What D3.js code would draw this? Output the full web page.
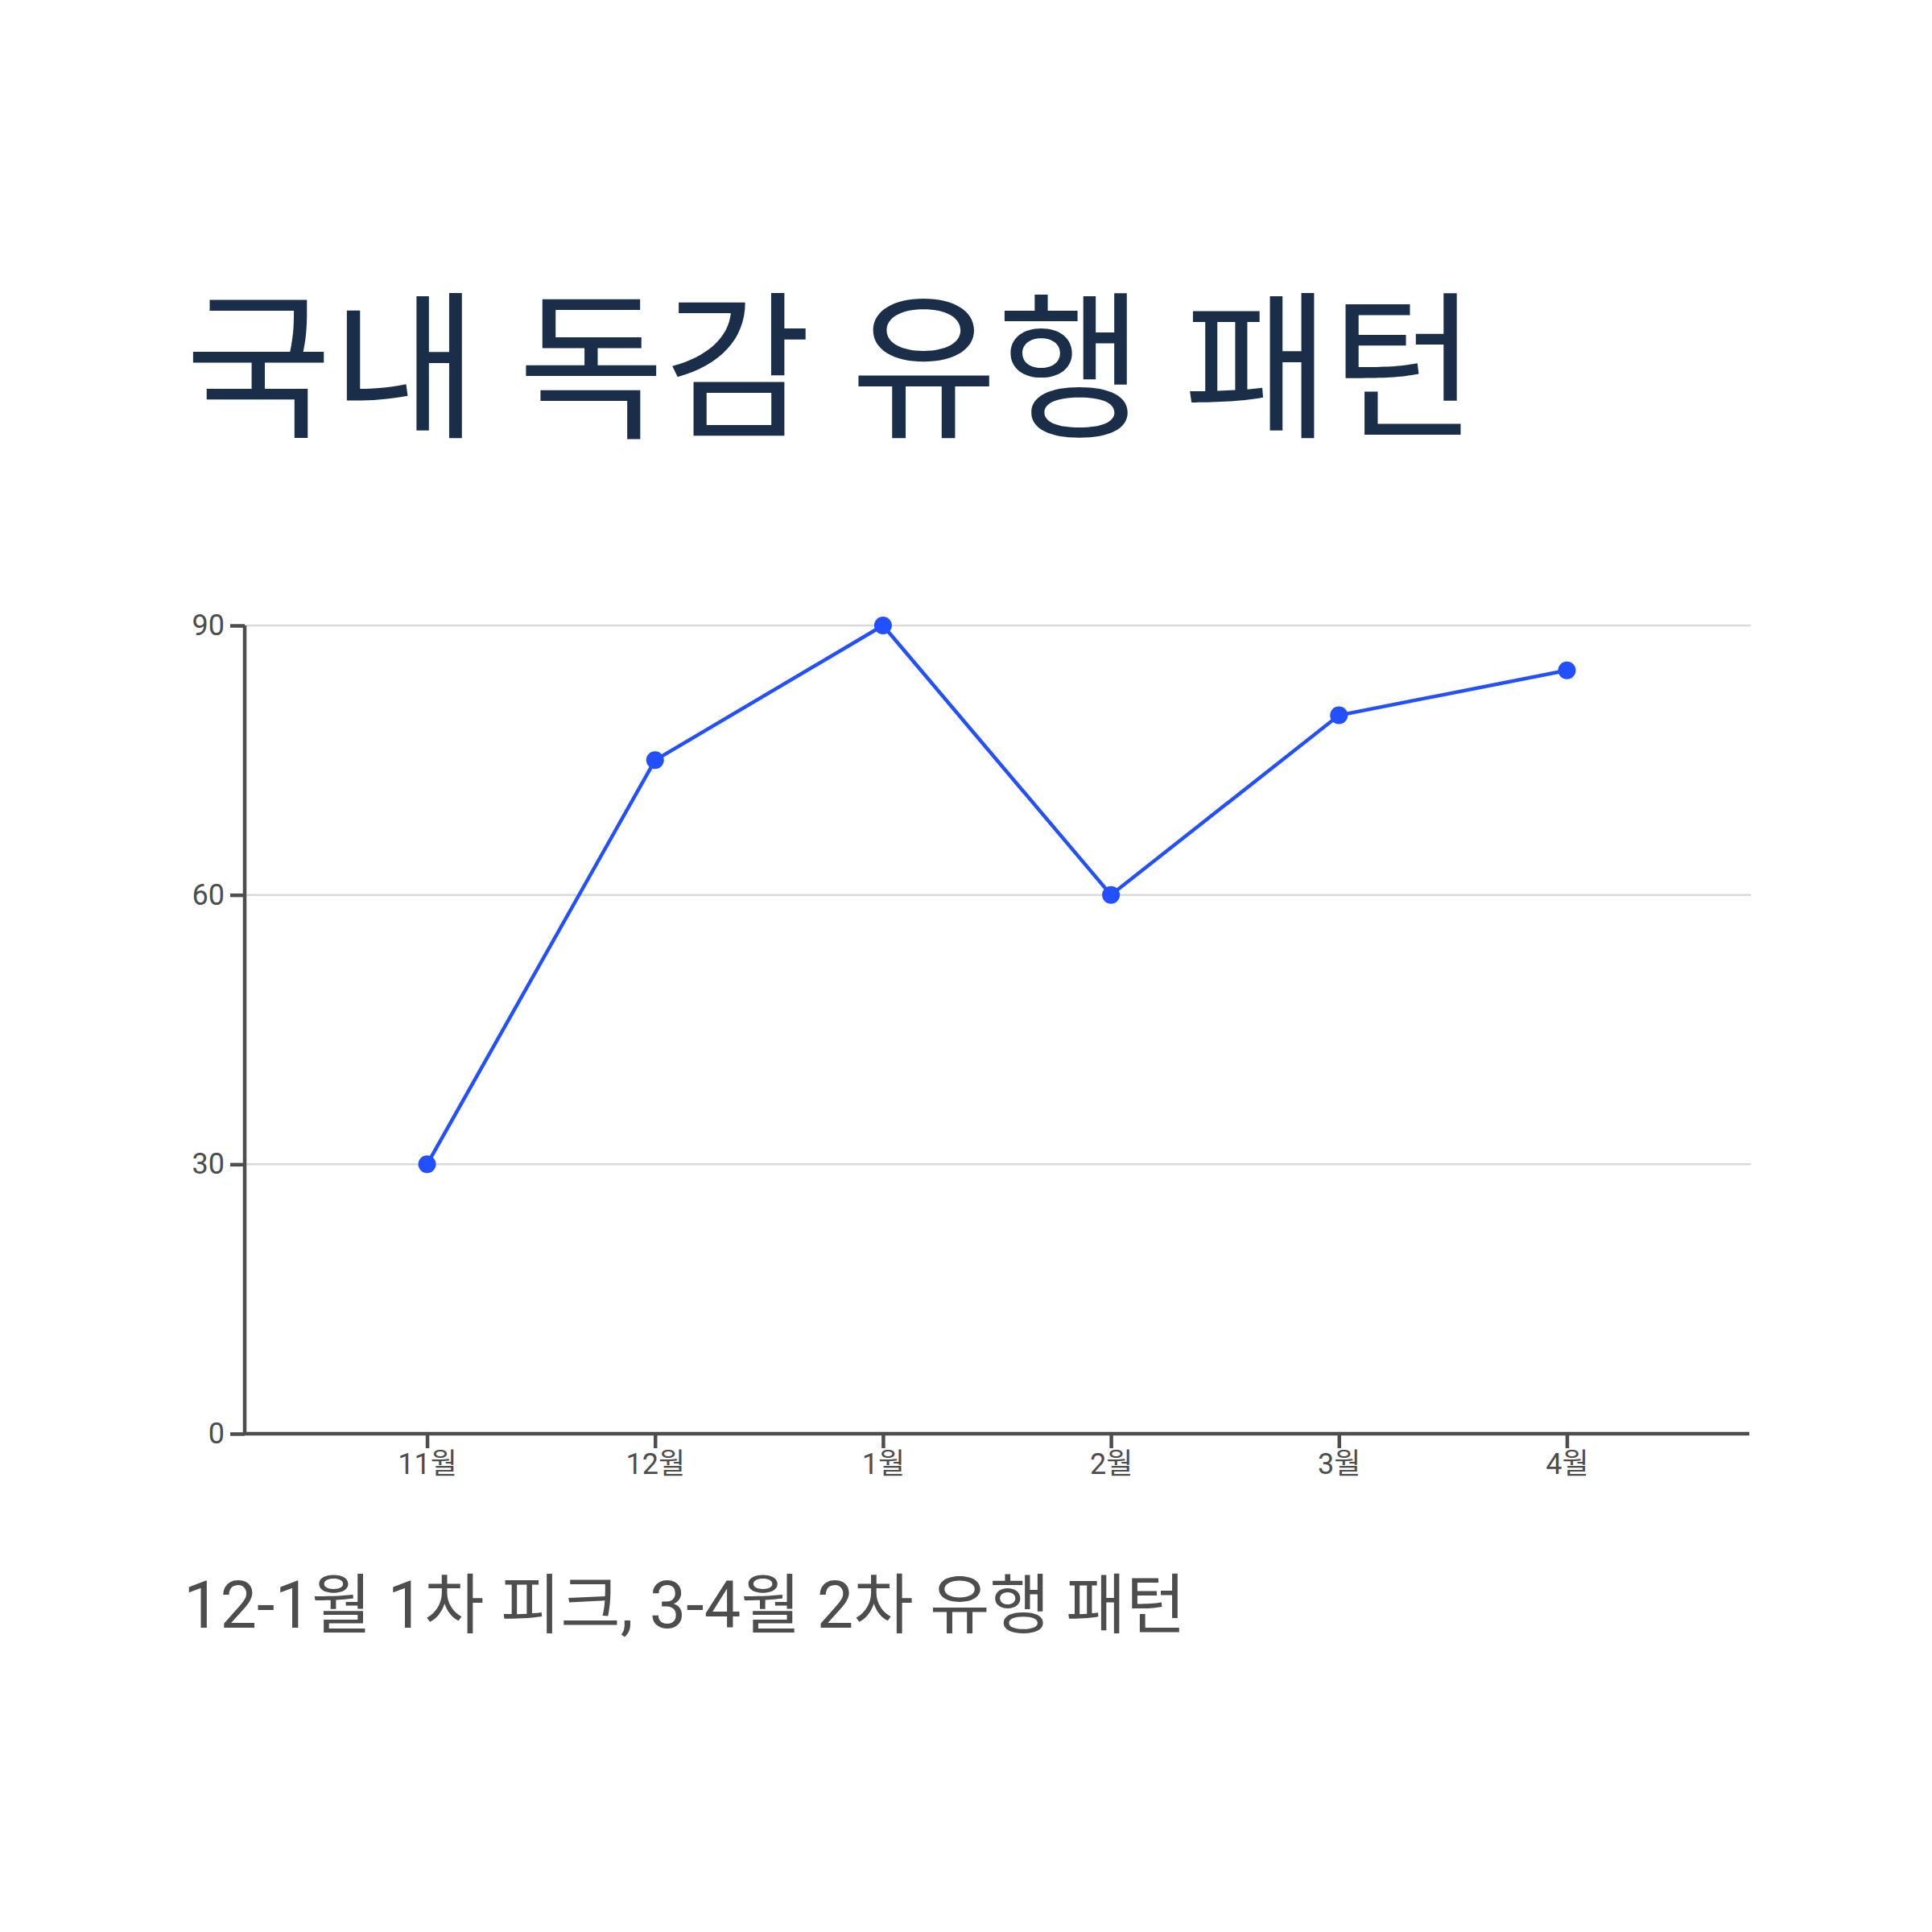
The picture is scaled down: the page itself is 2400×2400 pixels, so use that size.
<!DOCTYPE html>
<html>
<head>
<meta charset="utf-8">
<script src="https://cdn.jsdelivr.net/npm/d3@7"></script>
<style>
  body { margin: 0; background: #fff; }
  text { font-family: Roboto, "Noto Sans CJK KR", sans-serif; }
</style>
</head>
<body>
<div id="chart"></div>
<script>
// 국내 독감 유행 패턴 - monthly line
var months = ["11월", "12월", "1월", "2월", "3월", "4월"];
var values = [30, 75, 90, 60, 80, 85];
var yTicks = [0, 30, 60, 90];

var W = 2400, H = 2400;
var mLeft = 304, mRight = 2173, mTop = 777, mBottom = 1781;

var svg = d3.select('#chart').append('svg')
  .attr('width', W)
  .attr('height', H);

svg.append('rect').attr('width', W).attr('height', H).attr('fill', '#fff');

var x = d3.scalePoint()
  .domain(months)
  .range([mLeft, mRight])
  .padding(0.8);

var y = d3.scaleLinear()
  .domain([0, 90])
  .range([mBottom, mTop]);

// title
svg.append('text')
  .attr('x', 230)
  .attr('y', 528)
  .attr('font-size', 198)
  .attr('font-weight', 400)
  .attr('fill', '#1a2e4a')
  .text('국내 독감 유행 패턴');

// grid
svg.append('g')
  .selectAll('line')
  .data(yTicks.filter(function(d) { return d > 0; }))
  .enter()
  .append('line')
    .attr('x1', mLeft)
    .attr('x2', mRight + 2)
    .attr('y1', function(d) { return y(d); })
    .attr('y2', function(d) { return y(d); })
    .attr('stroke', '#d9d9d9')
    .attr('stroke-width', 2.5);

// axes
var yAxis = svg.append('g')
  .attr('transform', 'translate(' + mLeft + ',0)')
  .call(d3.axisLeft(y).tickValues(yTicks).tickSize(18).tickPadding(7));

var xAxis = svg.append('g')
  .attr('transform', 'translate(0,' + mBottom + ')')
  .call(d3.axisBottom(x).tickSize(18).tickPadding(6));

[yAxis, xAxis].forEach(function(g) {
  g.selectAll('.domain').attr('stroke', '#4d4d4d').attr('stroke-width', 4.5);
  g.selectAll('.tick line').attr('stroke', '#4d4d4d').attr('stroke-width', 4.5);
  g.selectAll('.tick text')
    .attr('fill', '#4d4d4d')
    .attr('font-size', 36)
    .style('font-family', 'Roboto, "Noto Sans CJK KR", sans-serif');
});
yAxis.select('.domain').attr('d', 'M0,' + mBottom + 'V' + mTop);
xAxis.select('.domain').attr('d', 'M' + mLeft + ',0H' + mRight);

// line + points
var line = d3.line()
  .x(function(d, i) { return x(months[i]); })
  .y(function(d) { return y(d); });

svg.append('path')
  .datum(values)
  .attr('d', line)
  .attr('fill', 'none')
  .attr('stroke', '#2250ff')
  .attr('stroke-width', 4.5);

svg.selectAll('circle')
  .data(values)
  .enter()
  .append('circle')
    .attr('cx', function(d, i) { return x(months[i]); })
    .attr('cy', function(d) { return y(d); })
    .attr('r', 11)
    .attr('fill', '#2250ff');

// subtitle
svg.append('text')
  .attr('x', 228)
  .attr('y', 2022)
  .attr('font-size', 81)
  .attr('fill', '#4d4d4d')
  .text('12-1월 1차 피크, 3-4월 2차 유행 패턴');
</script>
</body>
</html>
